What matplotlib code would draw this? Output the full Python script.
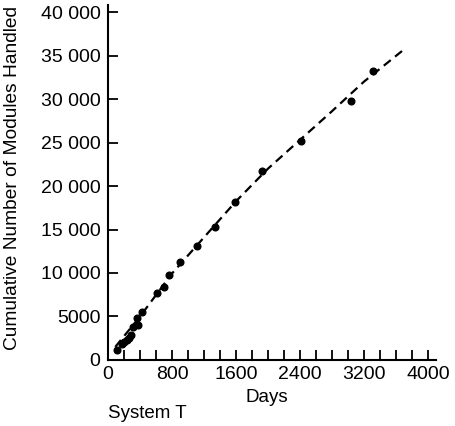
import numpy as np
import matplotlib
matplotlib.use("Agg")
import matplotlib.pyplot as plt

plt.rcParams['font.family'] = ['Liberation Sans', 'DejaVu Sans']

# observed points (days, cumulative modules)
days = [108, 171, 204, 233, 262, 287, 316, 379, 366, 429, 608, 704, 764,
        900, 1116, 1338, 1588, 1921, 2408, 3042, 3308]
modules = [1150, 1840, 2100, 2300, 2490, 2870, 3760, 4020, 4790, 5550, 7740,
           8430, 9730, 11300, 13140, 15320, 18200, 21720, 25170, 29770, 33250]

# dashed trend curve
trend_days = [90, 400, 800, 1200, 1600, 2000, 2400, 2800, 3200, 3700]
trend_modules = [1500, 5000, 9950, 14100, 18250, 22000, 25300, 28600, 32000, 35700]

y_ticks = [0, 5000, 10000, 15000, 20000, 25000, 30000, 35000, 40000]
y_labels = ['0', '5000', '10 000', '15 000', '20 000', '25 000', '30 000',
            '35 000', '40 000']
x_ticks = list(range(0, 4001, 200))
x_labels = [str(t) if t % 800 == 0 else '' for t in x_ticks]

fig = plt.figure(figsize=(4.56, 4.26), dpi=100)
ax = fig.add_axes([0.237, 0.155, 0.719, 0.833])

ax.plot(trend_days, trend_modules, color='black', lw=1.6, ls=(0, (4, 2.5)))
ax.plot(days, modules, 'o', color='black', ms=4.8)

ax.set_xlim(0, 4100)
ax.set_ylim(0, 40800)
ax.set_xticks(x_ticks)
ax.set_xticklabels(x_labels)
ax.set_yticks(y_ticks)
ax.set_yticklabels(y_labels)

for s in ['top', 'right']:
    ax.spines[s].set_visible(False)
for s in ['left', 'bottom']:
    ax.spines[s].set_linewidth(1.5)

ax.tick_params(direction='in', length=7, width=1.3, labelsize=14)
ax.tick_params(axis='y', pad=5.5)
ax.tick_params(axis='x', pad=4)

ax.set_xlabel('Days', fontsize=13.5)
ax.xaxis.set_label_coords(0.485, -0.083)
ax.set_ylabel('Cumulative Number of Modules Handled', fontsize=13.8)
ax.yaxis.set_label_coords(-0.265, 0.514)
fig.text(0.237, 0.0305, 'System T', fontsize=13.5, va='center')

fig.savefig('out.png', dpi=100)
